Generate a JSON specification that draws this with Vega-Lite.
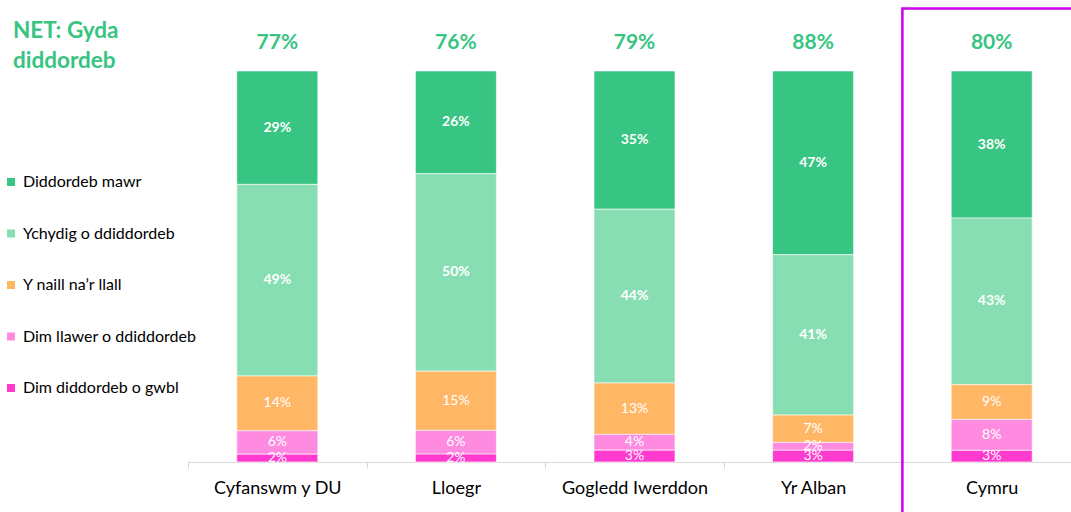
{
  "$schema": "https://vega.github.io/schema/vega-lite/v6.json",
  "width": 883,
  "height": 391,
  "autosize": {"type": "none"},
  "padding": {"left": 188, "top": 71, "right": 0, "bottom": 50},
  "config": {"view": {"stroke": null}, "font": "Lato"},
  "title": {
    "text": ["NET: Gyda", "diddordeb"],
    "anchor": "start",
    "frame": "group",
    "orient": "top",
    "dx": -175,
    "dy": 65,
    "offset": 0,
    "fontSize": 22.5,
    "fontWeight": "bold",
    "color": "#38C482",
    "lineHeight": 30,
    "baseline": "top",
    "font": "Lato"
  },
  "datasets": {
    "seg": [
      {"region": "Cyfanswm y DU", "cat": "Diddordeb mawr", "pct": 0.29, "rank": 5},
      {"region": "Cyfanswm y DU", "cat": "Ychydig o ddiddordeb", "pct": 0.49, "rank": 4},
      {"region": "Cyfanswm y DU", "cat": "Y naill na’r llall", "pct": 0.14, "rank": 3},
      {"region": "Cyfanswm y DU", "cat": "Dim llawer o ddiddordeb", "pct": 0.06, "rank": 2},
      {"region": "Cyfanswm y DU", "cat": "Dim diddordeb o gwbl", "pct": 0.02, "rank": 1},
      {"region": "Lloegr", "cat": "Diddordeb mawr", "pct": 0.26, "rank": 5},
      {"region": "Lloegr", "cat": "Ychydig o ddiddordeb", "pct": 0.50, "rank": 4},
      {"region": "Lloegr", "cat": "Y naill na’r llall", "pct": 0.15, "rank": 3},
      {"region": "Lloegr", "cat": "Dim llawer o ddiddordeb", "pct": 0.06, "rank": 2},
      {"region": "Lloegr", "cat": "Dim diddordeb o gwbl", "pct": 0.02, "rank": 1},
      {"region": "Gogledd Iwerddon", "cat": "Diddordeb mawr", "pct": 0.35, "rank": 5},
      {"region": "Gogledd Iwerddon", "cat": "Ychydig o ddiddordeb", "pct": 0.44, "rank": 4},
      {"region": "Gogledd Iwerddon", "cat": "Y naill na’r llall", "pct": 0.13, "rank": 3},
      {"region": "Gogledd Iwerddon", "cat": "Dim llawer o ddiddordeb", "pct": 0.04, "rank": 2},
      {"region": "Gogledd Iwerddon", "cat": "Dim diddordeb o gwbl", "pct": 0.03, "rank": 1},
      {"region": "Yr Alban", "cat": "Diddordeb mawr", "pct": 0.47, "rank": 5},
      {"region": "Yr Alban", "cat": "Ychydig o ddiddordeb", "pct": 0.41, "rank": 4},
      {"region": "Yr Alban", "cat": "Y naill na’r llall", "pct": 0.07, "rank": 3},
      {"region": "Yr Alban", "cat": "Dim llawer o ddiddordeb", "pct": 0.02, "rank": 2},
      {"region": "Yr Alban", "cat": "Dim diddordeb o gwbl", "pct": 0.03, "rank": 1},
      {"region": "Cymru", "cat": "Diddordeb mawr", "pct": 0.38, "rank": 5},
      {"region": "Cymru", "cat": "Ychydig o ddiddordeb", "pct": 0.43, "rank": 4},
      {"region": "Cymru", "cat": "Y naill na’r llall", "pct": 0.09, "rank": 3},
      {"region": "Cymru", "cat": "Dim llawer o ddiddordeb", "pct": 0.08, "rank": 2},
      {"region": "Cymru", "cat": "Dim diddordeb o gwbl", "pct": 0.03, "rank": 1}
    ],
    "net": [
      {"region": "Cyfanswm y DU", "net": 0.77},
      {"region": "Lloegr", "net": 0.76},
      {"region": "Gogledd Iwerddon", "net": 0.79},
      {"region": "Yr Alban", "net": 0.88},
      {"region": "Cymru", "net": 0.80}
    ],
    "box": [{"region": "Cymru", "top": 1.16, "bottom": -0.2}]
  },
  "layer": [
    {
      "data": {"name": "seg"},
      "mark": {"type": "bar", "size": 81, "stroke": "white", "strokeWidth": 0.6},
      "encoding": {
        "x": {
          "field": "region", "type": "nominal",
          "scale": {"domain": ["Cyfanswm y DU", "Lloegr", "Gogledd Iwerddon", "Yr Alban", "Cymru"], "range": [0, 893], "paddingInner": 0, "paddingOuter": 0},
          "axis": {
            "title": null, "labelAngle": 0, "labelFontSize": 18, "labelColor": "#000000",
            "labelPadding": 11, "domainColor": "#D9D9D9", "tickColor": "#D9D9D9",
            "tickSize": 6, "tickBand": "extent", "labelFont": "Lato"
          }
        },
        "y": {
          "field": "pct", "type": "quantitative", "stack": "normalize",
          "scale": {"domain": [0, 1]}, "axis": null
        },
        "color": {
          "field": "cat", "type": "nominal",
          "scale": {
            "domain": ["Diddordeb mawr", "Ychydig o ddiddordeb", "Y naill na’r llall", "Dim llawer o ddiddordeb", "Dim diddordeb o gwbl"],
            "range": ["#38C482", "#88DEB3", "#FFB766", "#FF8BE0", "#FF3ACF"]
          },
          "legend": {
            "title": null, "orient": "none", "legendX": -185, "legendY": 103,
            "symbolType": "square", "symbolSize": 64, "symbolStrokeWidth": 0,
            "labelFontSize": 16, "labelColor": "#000000", "labelFont": "Lato",
            "labelLimit": 0, "rowPadding": 35.5, "labelOffset": 4, "padding": 0
          }
        },
        "order": {"field": "rank", "type": "quantitative", "sort": "ascending"}
      }
    },
    {
      "data": {"name": "seg"},
      "mark": {"type": "text", "color": "white", "fontSize": 14, "fontWeight": "bold", "baseline": "middle", "clip": true},
      "encoding": {
        "x": {"field": "region", "type": "nominal"},
        "y": {"field": "pct", "type": "quantitative", "stack": "normalize", "bandPosition": 0.5},
        "order": {"field": "rank", "type": "quantitative", "sort": "ascending"},
        "text": {"field": "pct", "type": "quantitative", "format": ".0%"},
        "opacity": {"condition": {"test": "datum.rank >= 4", "value": 1}, "value": 0}
      }
    },
    {
      "data": {"name": "seg"},
      "mark": {"type": "text", "color": "white", "fontSize": 14, "baseline": "middle", "clip": true},
      "encoding": {
        "x": {"field": "region", "type": "nominal"},
        "y": {"field": "pct", "type": "quantitative", "stack": "normalize", "bandPosition": 0.5},
        "order": {"field": "rank", "type": "quantitative", "sort": "ascending"},
        "text": {"field": "pct", "type": "quantitative", "format": ".0%"},
        "opacity": {"condition": {"test": "datum.rank < 4", "value": 1}, "value": 0}
      }
    },
    {
      "data": {"name": "net"},
      "mark": {"type": "text", "color": "#38C482", "fontSize": 21, "fontWeight": "bold", "baseline": "middle", "dy": -28},
      "encoding": {
        "x": {"field": "region", "type": "nominal"},
        "y": {"datum": 1, "type": "quantitative"},
        "text": {"field": "net", "type": "quantitative", "format": ".0%"}
      }
    },
    {
      "data": {"name": "box"},
      "mark": {"type": "rect", "fill": null, "fillOpacity": 0, "stroke": "#CC00EE", "strokeWidth": 2.5},
      "encoding": {
        "x": {"field": "region", "type": "nominal"},
        "y": {"field": "top", "type": "quantitative"},
        "y2": {"field": "bottom"}
      }
    }
  ]
}
